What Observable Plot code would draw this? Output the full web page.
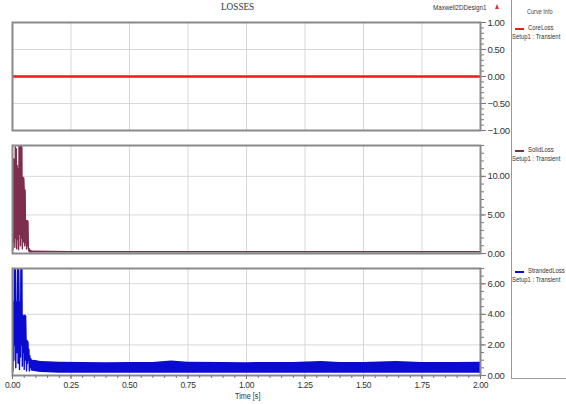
<!DOCTYPE html>
<html><head><meta charset="utf-8">
<script src="https://cdn.jsdelivr.net/npm/d3@7"></script>
<script src="https://cdn.jsdelivr.net/npm/@observablehq/plot@0.6"></script>
<style>
html,body{margin:0;padding:0;background:#fff;}
body{width:566px;height:404px;position:relative;overflow:hidden;font-family:"Liberation Sans",Arial,sans-serif;}
.abs{position:absolute;white-space:nowrap;}
.nar{transform:scaleX(0.85);transform-origin:0 0;}
.panel{position:absolute;left:0;}
</style></head><body>
<div class="abs" style="left:221px;top:1px;font-family:'Liberation Serif',serif;font-size:10px;color:#333;transform:scaleX(0.92);transform-origin:0 0;">LOSSES</div>
<div class="abs nar" style="left:433px;top:3px;font-size:8px;color:#333;transform:scaleX(0.78);">Maxwell2DDesign1</div>
<div class="abs" style="left:495px;top:4px;width:0;height:0;border-left:2.5px solid transparent;border-right:2.5px solid transparent;border-bottom:5px solid #e03030;"></div>
<div class="abs" style="left:511px;top:0;width:1px;height:378px;background:#999;"></div>
<div class="abs" style="left:511px;top:378px;width:55px;height:1px;background:#999;"></div>
<div class="abs nar" style="left:527px;top:8px;font-size:6.5px;color:#444;">Curve Info</div>
<div id="p1" class="panel" style="top:0px"></div>
<div id="p2" class="panel" style="top:135px"></div>
<div id="p3" class="panel" style="top:258px"></div>
<div id="legend"></div>
<div class="abs nar" style="left:235px;top:391px;font-size:8.5px;color:#333;">Time [s]</div>
<script>
// ---- data ----
const seriesNames = ["CoreLoss", "SolidLoss", "StrandedLoss"];
const seriesColors = ["#f01818", "#7d2d4d", "#0a0ad0"];
const setupLabel = "Setup1 : Transient";

const xTicks = [0, 0.25, 0.5, 0.75, 1.0, 1.25, 1.5, 1.75, 2.0];

// CoreLoss: flat zero
const coreTime = [0, 2.0];
const coreLoss = [0, 0];

// SolidLoss transient (dense oscillation)
const solidTime = [0.000,0.002,0.004,0.006,0.008,0.010,0.012,0.014,0.016,0.018,0.020,0.022,0.024,0.026,0.028,0.030,0.032,0.034,0.036,0.038,0.040,0.042,0.044,0.046,0.048,0.050,0.052,0.054,0.056,0.058,0.060,0.062,0.064,0.066,0.068,0.070,0.072,0.074,0.076,0.078,0.080];
const solidLoss = [12.3,0.5,12.3,1.5,12.2,0.8,13.8,2.0,13.6,0.6,11.4,1.8,11.0,0.5,14.0,2.5,13.9,1.0,14.0,2.0,13.8,0.6,9.9,1.5,9.8,8.2,1.0,8.2,1.4,4.3,0.6,4.3,1.0,4.2,0.6,0.3,0.6,0.2,0.4,0.2,0.3];
// SolidLoss steady envelope
const solidEnvTime = [0.08, 0.25, 0.5, 0.75, 1.0, 1.25, 1.5, 1.75, 2.0];
const solidEnvLow  = [0.05, 0.05, 0.05, 0.05, 0.05, 0.05, 0.05, 0.05, 0.05];
const solidEnvHigh = [0.32, 0.26, 0.26, 0.27, 0.26, 0.27, 0.26, 0.27, 0.26];

// StrandedLoss transient
const strandTime = [0.000,0.002,0.004,0.006,0.008,0.010,0.012,0.014,0.016,0.018,0.020,0.022,0.024,0.026,0.028,0.030,0.032,0.034,0.036,0.038,0.040,0.042,0.044,0.046,0.048,0.050,0.052,0.054,0.056,0.058,0.060,0.062,0.064,0.066,0.068,0.070,0.072,0.074,0.076,0.078,0.080];
const strandLoss = [4.8,0.3,4.8,1.0,7.5,2.0,7.5,0.5,4.8,1.5,4.8,7.5,0.8,7.5,4.8,0.4,4.8,1.2,7.5,2.0,7.5,0.6,3.95,1.5,3.9,0.4,3.95,1.0,3.9,2.3,0.3,2.3,0.8,2.2,1.0,1.7,0.3,1.3,0.5,1.1,1.0];
// StrandedLoss steady envelope
const strandEnvTime = [0.08, 0.10, 0.12, 0.15, 0.20, 0.30, 0.40, 0.50, 0.60, 0.68, 0.75, 0.90, 1.00, 1.10, 1.20, 1.32, 1.40, 1.50, 1.64, 1.75, 1.90, 2.00];
const strandEnvLow  = [0.30, 0.25, 0.20, 0.18, 0.15, 0.15, 0.15, 0.15, 0.15, 0.15, 0.15, 0.15, 0.15, 0.15, 0.15, 0.15, 0.15, 0.15, 0.15, 0.15, 0.15, 0.15];
const strandEnvHigh = [1.00, 0.98, 0.92, 0.90, 0.86, 0.85, 0.84, 0.85, 0.85, 0.95, 0.86, 0.85, 0.84, 0.85, 0.85, 0.92, 0.85, 0.85, 0.92, 0.85, 0.85, 0.86];

const panelY = [
  {domain: [-1, 1], ticks: [-1, -0.5, 0, 0.5, 1], minor: d3.range(-1, 1.0001, 0.1)},
  {domain: [0, 14], ticks: [0, 5, 10], minor: d3.range(0, 14.0001, 1)},
  {domain: [0, 7], ticks: [0, 2, 4, 6], minor: d3.range(0, 7.0001, 0.5)}
];

// ---- build ----
const fmt = d3.format(".2f");
const W = 511, ML = 12, MR = 31;
const font = "'Liberation Sans',Arial,sans-serif";

function zip(xs, ys) { return xs.map((x, i) => ({x, y: ys[i]})); }
function zip3(xs, lo, hi) { return xs.map((x, i) => ({x, lo: lo[i], hi: hi[i]})); }

function makePanel(idx, height, mt, mb, marks, showX) {
  const p = panelY[idx];
  const all = [
    Plot.gridX(xTicks, {stroke: "#d8d8d8", strokeOpacity: 1}),
    Plot.gridY(p.ticks, {stroke: "#d8d8d8", strokeOpacity: 1}),
    ...marks,
    Plot.axisY(p.minor, {anchor: "right", tickSize: 3, tickFormat: () => "", stroke: "#777", label: null}),
    Plot.axisY(p.ticks, {anchor: "right", tickSize: 5, tickPadding: 2, tickFormat: fmt, fontSize: 9.5, stroke: "#777", fill: "#333", label: null}),
    Plot.frame({stroke: "#8a8a8a", strokeWidth: 2})
  ];
  if (showX) {
    all.push(Plot.axisX(d3.range(0, 2.0001, 0.05), {anchor: "bottom", tickSize: 3, tickFormat: () => "", stroke: "#777", label: null}));
    all.push(Plot.axisX(xTicks, {anchor: "bottom", tickSize: 4, tickPadding: 2, tickFormat: fmt, fontSize: 8.5, stroke: "#777", fill: "#333", label: null}));
  }
  return Plot.plot({
    width: W, height, marginLeft: ML, marginRight: MR, marginTop: mt, marginBottom: mb,
    style: {fontFamily: font, background: "transparent", overflow: "visible", letterSpacing: "-0.4px"},
    x: {domain: [0, 2], axis: null, label: null},
    y: {domain: p.domain, axis: null, label: null},
    clip: true,
    marks: all
  });
}

document.getElementById("p1").append(makePanel(0, 135, 22, 5, [
  Plot.line(zip(coreTime, coreLoss), {x: "x", y: "y", stroke: seriesColors[0], strokeWidth: 2.5})
], false));

document.getElementById("p2").append(makePanel(1, 125, 10, 7, [
  Plot.areaY(zip3(solidEnvTime, solidEnvLow, solidEnvHigh), {x: "x", y1: "lo", y2: "hi", fill: seriesColors[1]}),
  Plot.line(zip(solidTime, solidLoss), {x: "x", y: "y", stroke: seriesColors[1], strokeWidth: 1.4})
], false));

document.getElementById("p3").append(makePanel(2, 146, 10, 29, [
  Plot.areaY(zip3(strandEnvTime, strandEnvLow, strandEnvHigh), {x: "x", y1: "lo", y2: "hi", fill: seriesColors[2]}),
  Plot.line(zip(strandTime, strandLoss), {x: "x", y: "y", stroke: seriesColors[2], strokeWidth: 1.4})
], true));

// legend
const legendTops = [24, 146, 267];
const leg = document.getElementById("legend");
seriesNames.forEach((name, i) => {
  const top = legendTops[i];
  const sw = document.createElement("div");
  sw.className = "abs";
  sw.style.cssText = `left:515px;top:${top + 4}px;width:9px;height:2px;background:${seriesColors[i]};`;
  leg.append(sw);
  const t = document.createElement("div");
  t.className = "abs nar";
  t.style.cssText = `left:528px;top:${top}px;font-size:7px;color:#333;`;
  t.textContent = name;
  leg.append(t);
  const s = document.createElement("div");
  s.className = "abs nar";
  s.style.cssText = `left:512px;top:${top + 9}px;font-size:7px;color:#333;`;
  s.textContent = setupLabel;
  leg.append(s);
});
</script>
</body></html>
